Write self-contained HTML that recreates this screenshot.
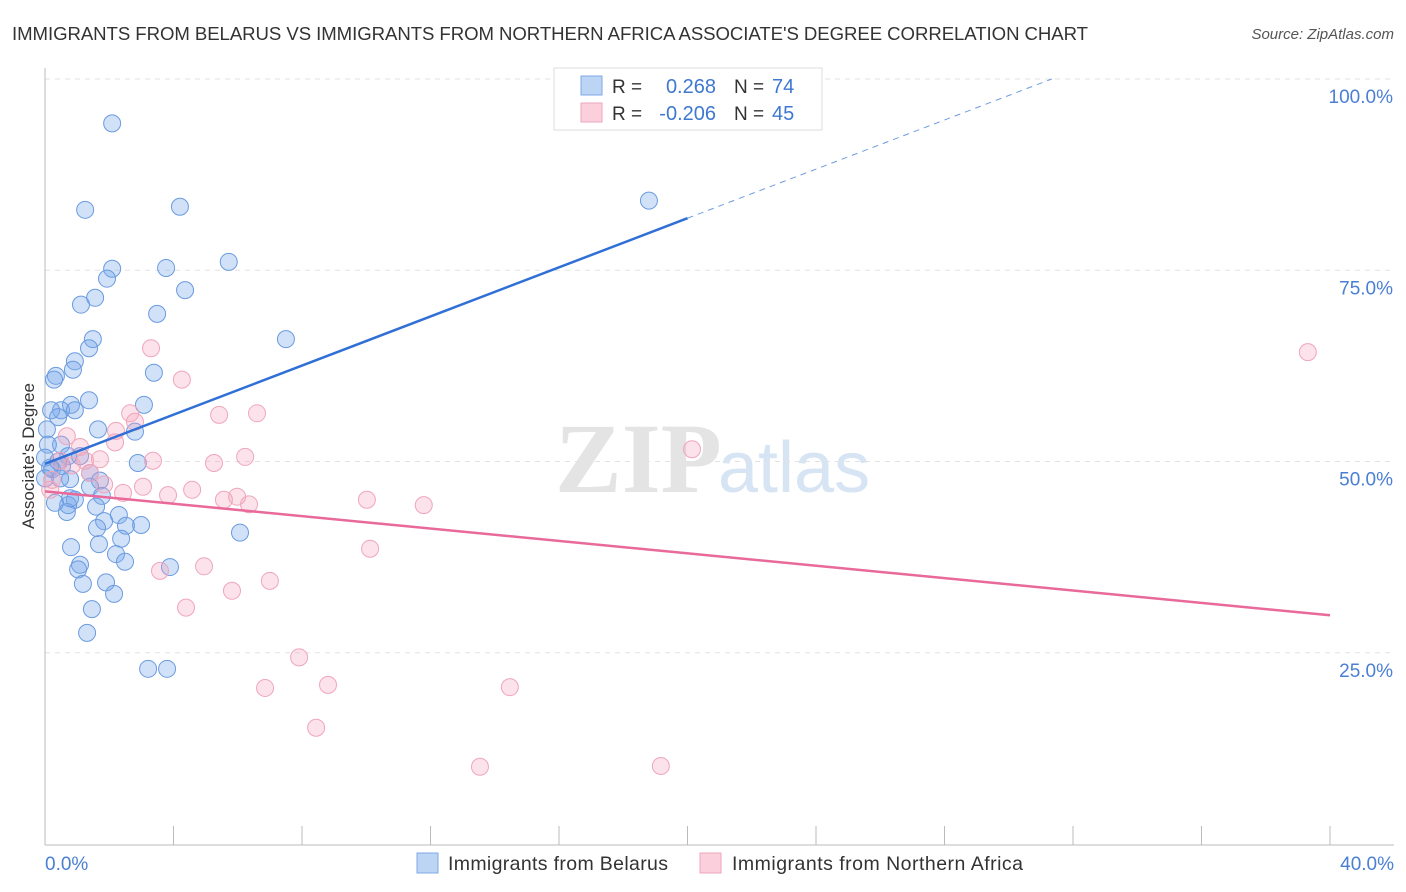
<!DOCTYPE html>
<html><head><meta charset="utf-8"><style>
body{margin:0;background:#fff;font-family:"Liberation Sans",sans-serif;}
svg{display:block}
</style></head><body>
<svg id="chart" width="1406" height="892" xmlns="http://www.w3.org/2000/svg">
<text x="12" y="40" font-size="18.6" fill="#333" textLength="1076">IMMIGRANTS FROM BELARUS VS IMMIGRANTS FROM NORTHERN AFRICA ASSOCIATE'S DEGREE CORRELATION CHART</text>
<text x="1394" y="39" font-size="15" fill="#555" font-style="italic" text-anchor="end">Source: ZipAtlas.com</text>
<text x="555" y="492" font-size="100" font-family="Liberation Serif,serif" fill="#e4e4e4" font-weight="bold">ZIP</text>
<text x="718" y="492" font-size="72" fill="#d6e4f4">atlas</text>
<g id="grid"></g>
<g id="axes"></g>
<g id="pts"></g>
<g id="lines"></g>
<text x="34" y="456" font-size="17" fill="#333" text-anchor="middle" transform="rotate(-90 34 456)">Associate's Degree</text>
<text x="45" y="870" font-size="19" fill="#4a7fd4">0.0%</text>
<text x="1394" y="870" font-size="19" fill="#4a7fd4" text-anchor="end">40.0%</text>
<g>
<rect x="554" y="68" width="268" height="62" fill="#fff" stroke="#ddd"/>
<rect x="581" y="76" width="21" height="19" fill="#bcd5f5" stroke="#7fa9e6"/>
<rect x="581" y="103" width="21" height="19" fill="#fbd0dc" stroke="#eea6bb"/>
<text x="612" y="93" font-size="19" fill="#333">R =</text>
<text x="716" y="93" font-size="20" fill="#3f78d0" text-anchor="end">0.268</text>
<text x="734" y="93" font-size="19" fill="#333">N =</text>
<text x="772" y="93" font-size="20" fill="#3f78d0">74</text>
<text x="612" y="120" font-size="19" fill="#333">R =</text>
<text x="716" y="120" font-size="20" fill="#3f78d0" text-anchor="end">-0.206</text>
<text x="734" y="120" font-size="19" fill="#333">N =</text>
<text x="772" y="120" font-size="20" fill="#3f78d0">45</text>
</g>
<g>
<rect x="417" y="853" width="21" height="20" fill="#bcd5f5" stroke="#7fa9e6"/>
<text x="448" y="870" font-size="19.5" fill="#333" textLength="220">Immigrants from Belarus</text>
<rect x="700" y="853" width="21" height="20" fill="#fbd0dc" stroke="#eea6bb"/>
<text x="732" y="870" font-size="19.5" fill="#333" textLength="291">Immigrants from Northern Africa</text>
</g>
</svg>
<script>
const yTicks=[25,50,75,100];
const yTickLabels=["25.0%","50.0%","75.0%","100.0%"];
const xTicks=[0,4,8,12,16,20,24,28,32,36,40];
const blueX=[2.09,1.25,4.2,5.72,2.09,3.77,1.93,1.56,4.36,1.12,3.49,1.49,7.5,1.37,0.93,0.87,3.39,0.34,0.28,1.37,0.81,3.08,0.5,0.19,0.93,0.41,0.06,1.65,2.8,0.5,0.09,0.72,1.09,0.41,2.89,0.53,0.22,1.4,0.78,1.71,1.4,1.77,0.93,0.72,1.59,0.68,2.3,1.84,2.99,2.52,1.62,6.07,2.37,1.68,0.81,2.21,2.49,1.09,1.03,3.89,1.18,1.9,2.15,1.46,1.31,3.21,3.8,18.8,0.16,0,0,0.47,0.78,0.31];
const blueY=[94.2,82.9,83.3,76.1,75.2,75.3,73.9,71.4,72.4,70.5,69.3,66.0,66.0,64.8,63.1,62.0,61.6,61.2,60.7,58.0,57.4,57.4,56.7,56.7,56.7,55.8,54.2,54.2,53.9,52.2,52.2,50.7,50.7,50.0,49.8,49.4,49.0,48.5,47.7,47.5,46.7,45.5,45.0,44.3,44.1,43.4,43.0,42.2,41.7,41.6,41.3,40.7,39.9,39.2,38.8,37.9,36.9,36.5,35.9,36.2,34.0,34.2,32.7,30.7,27.6,22.9,22.9,84.1,49.2,47.8,50.5,47.8,45.2,44.6];
const pinkX=[39.31,3.3,4.26,2.65,5.42,6.6,2.8,2.21,0.68,1.09,1.71,3.36,5.26,6.23,20.14,0.47,1.25,1.84,3.05,2.43,3.83,4.58,5.98,5.57,6.35,10.02,11.79,10.12,3.58,4.95,7.0,5.82,4.39,7.91,8.81,6.85,14.47,8.44,13.54,19.17,0.16,0.22,0.84,2.18,1.4];
const pinkY=[64.3,64.8,60.7,56.3,56.1,56.3,55.2,54.0,53.3,51.9,50.3,50.1,49.8,50.6,51.6,50.1,50.1,47.0,46.7,45.9,45.6,46.3,45.4,45.0,44.4,45.0,44.3,38.6,35.7,36.3,34.4,33.1,30.9,24.4,20.8,20.4,20.5,15.2,10.1,10.2,46.3,47.6,49.5,52.5,48.5];
const blueTrend=[49.7,1.605];
const pinkTrend=[46.1,-0.405];
const NS="http://www.w3.org/2000/svg";
const X=v=>45+v*(1285/40), Y=v=>844-v*7.65;
function mk(t,a,p){const e=document.createElementNS(NS,t);for(const k in a)e.setAttribute(k,a[k]);p.appendChild(e);return e;}
const grid=document.getElementById('grid'),axes=document.getElementById('axes'),pts=document.getElementById('pts'),lines=document.getElementById('lines');
yTicks.forEach((t,i)=>{
 const l=mk('line',{x1:45,x2:1394,y1:Y(t),y2:Y(t),stroke:'#e2e2e2','stroke-dasharray':'5,5'},grid);
 
 
 const tx=mk('text',{x:1393,y:Y(t)+24,'font-size':19,fill:'#4a7fd4','text-anchor':'end'},grid);
 tx.textContent=yTickLabels[i];
 
 
});
const xl=mk('line',{x1:45,x2:1394,y1:845,y2:845,stroke:'#bbb'},axes);


const yl=mk('line',{x1:45,x2:45,y1:68,y2:845,stroke:'#bbb'},axes);


xTicks.forEach(t=>{
 const k=mk('line',{x1:X(t),x2:X(t),y1:826,y2:845,stroke:'#bbb'},axes);
 
 
});
blueX.forEach((v,i)=>{
 const c=mk('circle',{cx:X(v),cy:Y(blueY[i]),r:8.5,fill:'rgba(120,170,235,0.35)',stroke:'#6b9be0','stroke-width':1},pts);
 
 
});
pinkX.forEach((v,i)=>{
 const c=mk('circle',{cx:X(v),cy:Y(pinkY[i]),r:8.5,fill:'rgba(245,160,185,0.3)',stroke:'#efa6bb','stroke-width':1},pts);
 
 
});
const bl=mk('line',{x1:X(0),y1:Y(blueTrend[0]),x2:X(20),y2:Y(blueTrend[0]+20*blueTrend[1]),stroke:'#2f6fd6','stroke-width':2.5},lines);


const xe=(100-blueTrend[0])/blueTrend[1];
const bd=mk('line',{x1:X(20),y1:Y(blueTrend[0]+20*blueTrend[1]),x2:X(xe),y2:Y(100),stroke:'#6f9be0','stroke-width':1,'stroke-dasharray':'6,5'},lines);


const pl=mk('line',{x1:X(0),y1:Y(pinkTrend[0]),x2:X(40),y2:Y(pinkTrend[0]+40*pinkTrend[1]),stroke:'#e8699a','stroke-width':2.5},lines);


</script>
</body></html>
